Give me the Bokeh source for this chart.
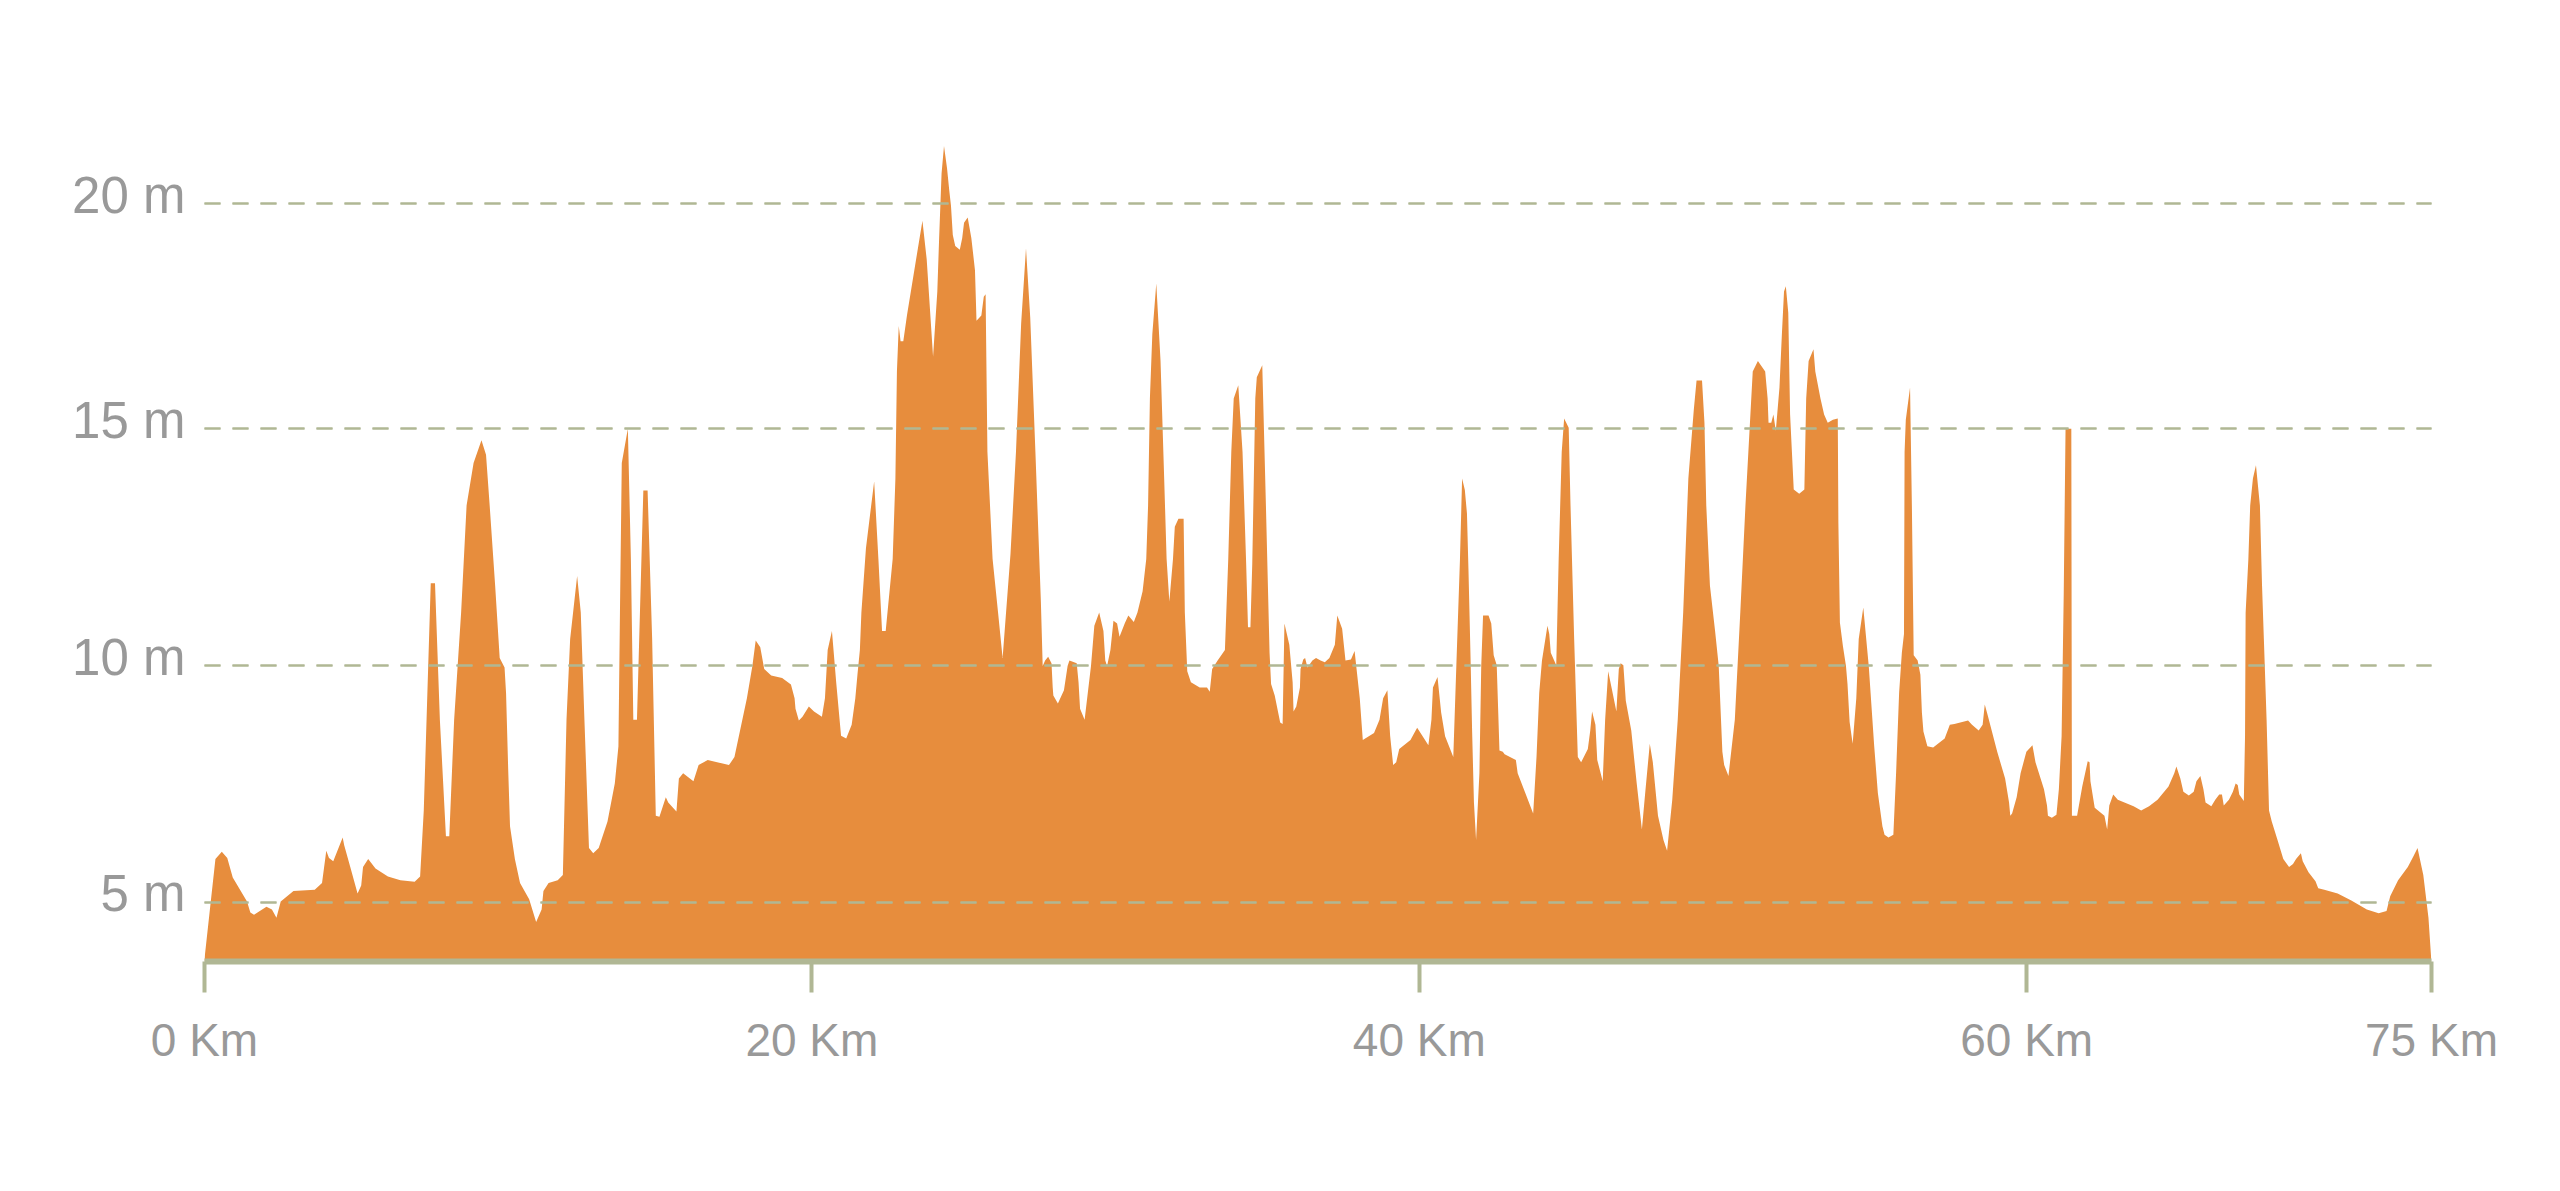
from bokeh.plotting import figure
from bokeh.models import FixedTicker, Grid, Range1d
from bokeh.embed import file_html
from bokeh.resources import INLINE

# distance (km, as read on the picture's scale) and elevation (m)
DIST_KM = [
    0.0, 0.36, 0.57, 0.75, 0.93, 1.4, 1.51, 1.63, 2.04, 2.22, 2.37, 2.51, 2.93, 3.63, 3.87,
    4.01, 4.1, 4.24, 4.55, 4.6, 4.8, 5.04, 5.16, 5.22, 5.39, 5.63, 6.04, 6.45, 6.92, 7.1,
    7.22, 7.45, 7.59, 7.75, 7.95, 8.06, 8.22, 8.45, 8.63, 8.86, 9.12, 9.27, 9.39, 9.57, 9.72,
    9.88, 9.93, 10.0, 10.06, 10.22, 10.39, 10.69, 10.92, 11.1, 11.16, 11.33, 11.63, 11.8, 11.92,
    12.04, 12.27, 12.39, 12.51, 12.66, 12.8, 12.98, 13.27, 13.51, 13.63, 13.68, 13.74, 13.94,
    14.04, 14.12, 14.24, 14.45, 14.59, 14.74, 14.86, 14.98, 15.19, 15.27, 15.54, 15.62, 15.76,
    16.1, 16.27, 16.57, 17.27, 17.45, 17.86, 18.04, 18.15, 18.3,
    18.43, 18.66, 19.02, 19.31, 19.43, 19.46, 19.57, 19.69, 19.9, 20.07, 20.33, 20.43, 20.52,
    20.66, 20.8, 20.96, 21.13, 21.31, 21.43, 21.5, 21.58, 21.63, 21.78, 22.05, 22.19, 22.31,
    22.43, 22.66, 22.75, 22.8, 22.86, 22.92, 23.01, 23.13, 23.46, 23.64, 23.78, 23.99, 24.13,
    24.19, 24.27, 24.35, 24.45, 24.52, 24.58, 24.64, 24.72, 24.87, 24.95, 25.01, 25.13, 25.25,
    25.37, 25.42, 25.58, 25.66, 25.72, 25.78, 25.95, 26.13, 26.28, 26.54, 26.72, 26.89, 27.05,
    27.19, 27.36, 27.54, 27.6, 27.68, 27.78, 27.89, 27.93, 27.95, 28.1, 28.3, 28.42, 28.48,
    28.72, 28.78, 28.83, 28.98, 29.19, 29.3, 29.46, 29.6, 29.66, 29.72, 29.83, 29.93, 30.05,
    30.13, 30.3, 30.42, 30.6, 30.72, 30.89, 31.01, 31.07, 31.13, 31.21, 31.34, 31.48, 31.6,
    31.68, 31.77, 31.89, 31.95, 32.07, 32.24, 32.28, 32.36, 32.48, 32.77, 33.01, 33.1, 33.18,
    33.36, 33.6, 33.71, 33.81, 33.89, 34.04, 34.18, 34.3, 34.36, 34.44, 34.5, 34.6, 34.65,
    34.83, 34.95, 35.07, 35.12, 35.24, 35.42, 35.5, 35.56, 35.72, 35.83, 35.86, 35.95, 36.07,
    36.09, 36.18, 36.24, 36.32, 36.48, 36.6, 36.75,
    36.89, 37.04, 37.22, 37.3, 37.46, 37.57, 37.75, 37.87, 38.04, 38.14, 38.51, 38.69, 38.81,
    38.95, 39.04, 39.14, 39.24, 39.34, 39.71, 39.93, 40.1, 40.3, 40.4, 40.45, 40.6, 40.72,
    40.85, 41.12, 41.22, 41.34, 41.41, 41.5, 41.57, 41.62, 41.69, 41.74, 41.8, 41.87, 41.98,
    42.04, 42.1, 42.28, 42.37, 42.45, 42.55, 42.6, 42.64, 42.75, 42.81, 43.18, 43.24, 43.51,
    43.75, 43.86, 43.95, 44.04, 44.22, 44.28, 44.33, 44.51, 44.59, 44.69, 44.77, 44.92, 44.98,
    45.1, 45.22, 45.33, 45.55, 45.63, 45.69, 45.8, 45.86, 46.04, 46.12, 46.22, 46.33, 46.49,
    46.57, 46.63, 46.72, 46.8, 46.98, 47.16, 47.33, 47.45, 47.59, 47.69, 47.86, 48.04, 48.16,
    48.33, 48.51, 48.69, 48.86, 49.04, 49.13, 49.31, 49.39, 49.45, 49.57, 49.74, 49.86, 49.98,
    50.04, 50.18, 50.39, 50.57, 50.74, 50.98, 51.15, 51.39, 51.47, 51.5, 51.59, 51.66, 51.74,
    51.86, 51.94, 52.01, 52.07, 52.15, 52.21, 52.27, 52.33, 52.51, 52.68, 52.74, 52.82, 52.98,
    53.04, 53.21, 53.33, 53.45, 53.62, 53.78, 53.8, 53.85, 53.95, 54.05, 54.1, 54.17, 54.27,
    54.39, 54.47, 54.62, 54.8, 54.98, 55.1, 55.25,
    55.32, 55.45, 55.61, 55.7, 55.8, 55.89, 55.96, 55.98, 56.02, 56.16, 56.22, 56.28, 56.41,
    56.5, 56.55, 56.6, 56.73, 56.92, 57.3, 57.47, 57.62, 58.07, 58.2, 58.42, 58.55, 58.62,
    58.71, 59.03, 59.29, 59.42, 59.46, 59.52, 59.67, 59.8, 59.99, 60.19, 60.29, 60.57, 60.67,
    60.7, 60.83, 60.98, 61.06, 61.15, 61.22, 61.28, 61.47, 61.49, 61.66, 61.83, 62.01, 62.07,
    62.1, 62.17, 62.24, 62.56, 62.65, 62.72, 62.85, 63.0, 63.52, 63.77, 64.03, 64.31, 64.67,
    64.86, 64.93, 65.06, 65.16, 65.34, 65.5, 65.59, 65.72, 65.82, 65.89, 66.08, 66.21, 66.34,
    66.43, 66.49, 66.66, 66.79, 66.88, 66.95, 67.0, 67.15, 67.19, 67.21, 67.3, 67.36, 67.45,
    67.55, 67.68, 67.75, 67.81, 67.9, 67.98, 68.07, 68.26, 68.45, 68.64, 68.77, 68.87, 69.03,
    69.09, 69.28, 69.51, 69.6, 69.8, 70.24, 70.69, 71.2, 71.59, 71.85, 71.97, 72.23, 72.55,
    72.74, 72.87, 73.06, 73.23, 73.32,
]
ELEV_M = [
    3.8, 5.91, 6.06, 5.93, 5.52, 5.01, 4.78, 4.73, 4.9, 4.84, 4.67, 5.01, 5.23, 5.26, 5.4,
    6.08, 5.93, 5.86, 6.36, 6.2, 5.74, 5.18, 5.35, 5.74, 5.91, 5.71, 5.54, 5.46, 5.43, 5.54,
    6.93, 11.73, 11.73, 8.85, 6.39, 6.39, 8.85, 11.11, 13.37, 14.27, 14.75, 14.44, 13.37, 11.68, 10.15,
    9.95, 9.4, 7.8, 6.6, 5.91, 5.4, 5.06, 4.58, 4.84, 5.23, 5.4, 5.46, 5.57, 8.85,
    10.55, 11.88, 11.11, 8.85, 6.14, 6.03, 6.14, 6.7, 7.5, 8.29, 11.11, 14.27, 14.99,
    12.24, 8.85, 8.85, 13.69, 13.69, 10.55, 6.82, 6.8, 7.21, 7.1, 6.91, 7.61, 7.72,
    7.55, 7.89, 8.0, 7.89, 8.06, 9.3, 9.98, 10.52, 10.38,
    9.92, 9.78, 9.73, 9.59, 9.3, 9.08, 8.83, 8.91, 9.13, 9.02, 8.91, 9.3, 10.32,
    10.72, 9.64, 8.51, 8.45, 8.74, 9.3, 9.8, 10.32, 11.11, 12.47, 13.88, 12.24, 10.72,
    10.72, 12.24, 13.94, 16.2, 17.16, 16.84, 16.84, 17.38, 18.68, 19.38, 18.57, 16.51, 17.89,
    19.02, 20.38, 20.96, 20.49, 20.04, 19.7, 19.08, 18.85, 18.77, 19.02, 19.34, 19.45, 19.02,
    18.34, 17.27, 17.38, 17.78, 17.83, 14.5, 12.24, 11.11, 10.15, 12.35, 14.5, 17.21, 18.8,
    17.33, 14.5, 11.34, 9.98, 10.1, 10.18, 10.04, 9.53, 9.36, 9.19, 9.47, 9.98, 10.1,
    10.04, 9.64, 9.08, 8.85, 9.98, 10.83, 11.11, 10.72, 10.1, 9.98, 10.32, 10.94, 10.88,
    10.6, 10.88, 11.05, 10.91, 11.11, 11.56, 12.24, 13.37, 15.63, 16.99, 18.06, 16.42, 13.94,
    12.24, 11.34, 12.24, 12.92, 13.09, 13.09, 11.11, 9.87, 9.64, 9.53, 9.53, 9.44, 9.92,
    10.1, 10.32, 12.24, 14.5, 15.63, 15.91, 14.5, 12.13, 10.8, 10.8, 12.13, 15.63, 16.08,
    16.33, 13.37, 10.26, 9.6, 9.36, 8.79, 8.76, 10.88, 10.43, 9.64, 9.02, 9.13, 9.53,
    9.92, 10.12, 10.15, 9.95, 10.1, 10.15, 10.1,
    10.06, 10.15, 10.43, 11.05, 10.77, 10.1, 10.12, 10.3, 9.3, 8.42, 8.57, 8.85, 9.3,
    9.47, 8.51, 7.89, 7.95, 8.23, 8.42, 8.68, 8.51, 8.31, 8.85, 9.53, 9.75, 9.0,
    8.5, 8.06, 9.98, 12.24, 13.94, 13.7, 13.2, 12.0, 10.1, 8.6, 7.1, 6.31, 7.72,
    9.98, 11.05, 11.05, 10.88, 10.21, 10.0, 9.0, 8.2, 8.17, 8.12, 8.0, 7.72, 7.27,
    6.87, 8.06, 9.42, 10.1, 10.83, 10.66, 10.26, 10.0, 12.24, 14.5, 15.21, 15.01, 13.37,
    10.55, 8.06, 7.95, 8.23, 8.62, 9.02, 8.74, 8.0, 7.55, 8.85, 9.87, 9.53, 9.02,
    9.92, 10.04, 10.0, 9.25, 8.62, 7.5, 6.53, 7.38, 8.34, 7.95, 6.82, 6.31, 6.08,
    7.16, 8.85, 11.11, 13.94, 15.4, 16.01, 16.01, 15.12, 13.37, 11.68, 10.72, 9.98, 8.17,
    7.89, 7.66, 8.85, 11.11, 13.37, 16.2, 16.42, 16.2, 15.63, 15.12, 15.12, 15.29, 14.95,
    15.86, 16.99, 17.89, 18.0, 17.44, 15.29, 14.5, 13.71, 13.62, 13.71, 15.63, 16.42, 16.67,
    16.2, 15.63, 15.29, 15.12, 15.18, 15.21, 13.0, 10.9, 10.4, 9.98, 9.6, 8.8, 8.34,
    9.3, 10.55, 11.22, 9.98, 8.29, 7.3, 6.6,
    6.42, 6.36, 6.42, 7.72, 9.42, 10.26, 10.66, 14.5, 15.18, 15.86, 13.37, 10.21, 10.1,
    9.8, 9.0, 8.6, 8.29, 8.26, 8.45, 8.74, 8.76, 8.83, 8.74, 8.62, 8.74, 9.17,
    8.96, 8.17, 7.61, 7.1, 6.82, 6.87, 7.21, 7.72, 8.17, 8.31, 7.95, 7.38, 7.04,
    6.82, 6.78, 6.84, 7.38, 8.5, 11.5, 14.99, 14.99, 6.82, 6.82, 7.44, 7.97, 7.95,
    7.55, 7.27, 6.99, 6.82, 6.53, 7.04, 7.27, 7.16, 7.02, 6.93, 7.02, 7.16, 7.44,
    7.72, 7.86, 7.61, 7.33, 7.25, 7.33, 7.55, 7.66, 7.38, 7.1, 7.02, 7.16, 7.27,
    7.27, 7.04, 7.16, 7.33, 7.5, 7.47, 7.27, 7.13, 8.5, 11.11, 12.24, 13.37, 13.94,
    14.22, 13.37, 11.68, 10.55, 8.85, 6.93, 6.7, 6.31, 5.91, 5.74, 5.8, 5.91, 6.03,
    5.86, 5.63, 5.44, 5.29, 5.26, 5.18, 5.03, 4.84, 4.76, 4.81, 5.12, 5.46, 5.74,
    5.97, 6.14, 5.57, 4.67, 3.8,
]

X_TICKS = [0, 20, 40, 60, 73.33]
X_LABELS = ["0 Km", "20 Km", "40 Km", "60 Km", "75 Km"]
Y_TICKS = [5, 10, 15, 19.75]
Y_LABELS = ["5 m", "10 m", "15 m", "20 m"]
Y_LABEL_POS = [5.17, 10.17, 15.17, 19.92]   # labels sit a little above their gridlines

X_START, X_END = 0, 73.33
Y_START, Y_END = 3.744, 21.9

AREA = "#E78D3D"
GUIDE = "#b0b794"
TEXT = "#999999"
FONT = "Liberation Sans"

p = figure(
    frame_width=2227, frame_height=860,
    min_border_left=204, min_border_right=113, min_border_top=101, min_border_bottom=214,
    x_range=Range1d(X_START, X_END), y_range=Range1d(Y_START, Y_END),
    output_backend="svg", toolbar_location=None,
    background_fill_color="white", border_fill_color="white",
)
p.outline_line_color = None

# faint continuous line under the dashed grid
p.add_layout(Grid(dimension=1, ticker=FixedTicker(ticks=Y_TICKS),
                  grid_line_color="#ededed", grid_line_width=1, level="underlay"))

p.varea(x=DIST_KM, y1=Y_START - 0.2, y2=ELEV_M, fill_color=AREA, fill_alpha=1.0)

p.xgrid.visible = False
p.ygrid.ticker = FixedTicker(ticks=Y_TICKS)
p.ygrid.grid_line_color = GUIDE
p.ygrid.grid_line_width = 2
p.ygrid.grid_line_dash = "16 12"
p.ygrid.level = "overlay"

xa = p.xaxis[0]
xa.ticker = FixedTicker(ticks=X_TICKS)
xa.major_label_overrides = dict(zip(X_TICKS, X_LABELS))
xa.axis_line_color = GUIDE
xa.axis_line_width = 6
xa.major_tick_line_color = GUIDE
xa.major_tick_line_width = 4
xa.major_tick_in = 0
xa.major_tick_out = 31
xa.minor_tick_line_color = None
xa.major_label_text_font = FONT
xa.major_label_text_font_size = "46px"
xa.major_label_text_color = TEXT
xa.major_label_standoff = 21

ya = p.yaxis[0]
ya.ticker = FixedTicker(ticks=Y_LABEL_POS)
ya.major_label_overrides = dict(zip(Y_LABEL_POS, Y_LABELS))
ya.axis_line_color = None
ya.major_tick_line_color = None
ya.minor_tick_line_color = None
ya.major_label_text_font = FONT
ya.major_label_text_font_size = "51px"
ya.major_label_text_color = TEXT
ya.major_label_standoff = 13

open("out.html", "w").write(file_html(p, INLINE))
